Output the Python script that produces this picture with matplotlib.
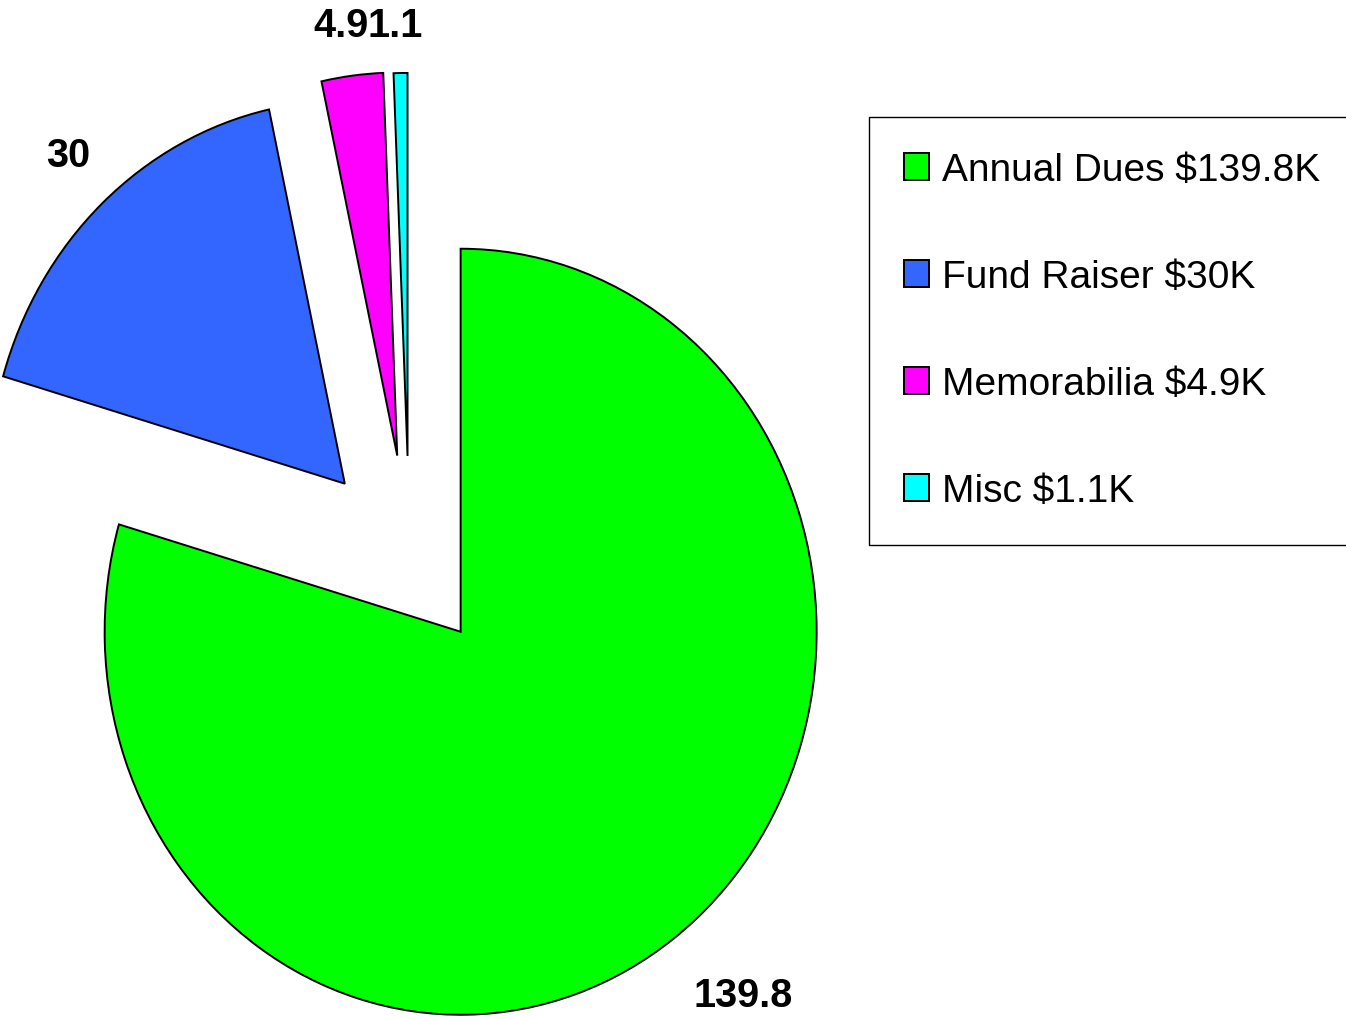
import matplotlib
matplotlib.use("Agg")
import matplotlib.pyplot as plt
import numpy as np

plt.rcParams['font.family'] = ['Liberation Sans', 'DejaVu Sans']

# ---- data ----
categories = ["Annual Dues", "Fund Raiser", "Memorabilia", "Misc"]
values = [139.8, 30, 4.9, 1.1]
value_labels = ["139.8", "30", "4.9", "1.1"]
legend_labels = ["Annual Dues $139.8K", "Fund Raiser $30K", "Memorabilia $4.9K", "Misc $1.1K"]
colors = ["#00FF00", "#3366FF", "#FF00FF", "#00FFFF"]

# ---- layout ----
explode = [0.240, 0.266, 0.270, 0.267]
# label anchor positions (data units relative to pie centre), baseline-aligned
label_xy = [(0.937, -1.168), (-0.959, 1.025), (-0.1935, 1.3635), (-0.0404, 1.3635)]

W, H = 1346, 1020
fig = plt.figure(figsize=(W / 100, H / 100), dpi=100)
ax = fig.add_axes([0, 0, 1, 1])

wedges, _ = ax.pie(values, colors=colors, startangle=90, counterclock=False,
                   explode=explode, radius=1.0,
                   wedgeprops=dict(edgecolor="black", linewidth=1.4))
ax.set_aspect("auto")
ax.set_xlim(-1.150, 2.631)
ax.set_ylim(-1.2031, 1.460)
ax.axis("off")

for txt, (x, y) in zip(value_labels, label_xy):
    ax.text(x, y, txt, ha="center", va="baseline", fontsize=28.5,
            fontweight="bold", color="black")

leg = ax.legend(wedges, legend_labels, loc="upper left",
                bbox_to_anchor=(869 / W, 1 - 118 / H), bbox_transform=fig.transFigure,
                borderaxespad=0, fontsize=28, frameon=True, fancybox=False,
                framealpha=1, edgecolor="black", handlelength=0.64,
                handleheight=0.69, handletextpad=0.33, labelspacing=1.83,
                borderpad=0.9)
leg.get_frame().set_linewidth(1.0)

fig.savefig("out.png", dpi=100, facecolor="white")
